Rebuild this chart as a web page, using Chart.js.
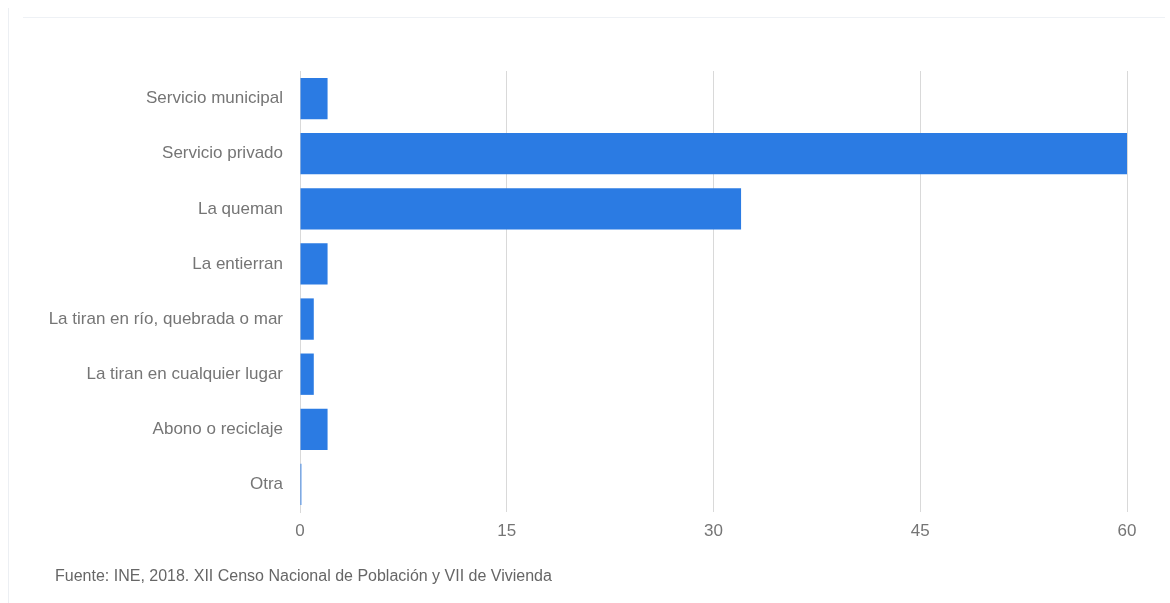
<!DOCTYPE html>
<html>
<head>
<meta charset="utf-8">
<script src="https://cdn.jsdelivr.net/npm/chart.js@4"></script>
<style>
    html, body { margin: 0; padding: 0; background: #fff; }
    #wrap { position: relative; width: 1170px; height: 603px; overflow: hidden; }
    #leftLine { position: absolute; left: 8px; top: 8px; width: 1px; height: 595px; background: #eceff3; }
    #topLine { position: absolute; left: 23px; top: 17px; width: 1142px; height: 1px; background: #eef1f5; }
    #chart { position: absolute; left: 0; top: 0; }
    #source { position: absolute; left: 55px; top: 567px; font: 16px Arial, "Liberation Sans", sans-serif; color: #666; }
</style>
</head>
<body>
<div id="wrap">
    <div id="leftLine"></div>
    <div id="topLine"></div>
    <canvas id="chart" width="1170" height="603"></canvas>
    <div id="source">Fuente: INE, 2018. XII Censo Nacional de Población y VII de Vivienda</div>
</div>
<script>
const categories = [
    'Servicio municipal',
    'Servicio privado',
    'La queman',
    'La entierran',
    'La tiran en río, quebrada o mar',
    'La tiran en cualquier lugar',
    'Abono o reciclaje',
    'Otra'
];
const values = [2, 60, 32, 2, 1, 1, 2, 0.1];
const xTicks = [0, 15, 30, 45, 60];

const labelFont = { family: 'Arial, "Liberation Sans", sans-serif', size: 17 };

const ctx = document.getElementById('chart').getContext('2d');
new Chart(ctx, {
    type: 'bar',
    data: {
        labels: categories,
        datasets: [{
            data: values,
            backgroundColor: '#2b7be3',
            borderWidth: 0,
            barPercentage: 0.75,
            categoryPercentage: 1
        }]
    },
    options: {
        indexAxis: 'y',
        responsive: false,
        animation: false,
        layout: { padding: { top: 71, right: 43, bottom: 61, left: 0 } },
        plugins: { legend: { display: false }, tooltip: { enabled: false } },
        scales: {
            x: {
                min: 0,
                max: 60,
                afterFit: (scale) => { scale.height = 30; },
                afterBuildTicks: (scale) => { scale.ticks = xTicks.map(v => ({ value: v })); },
                grid: { color: '#d9d9d9', lineWidth: 1, drawTicks: false },
                border: { display: false },
                ticks: { color: '#757575', font: labelFont, padding: 9 }
            },
            y: {
                afterFit: (scale) => { scale.width = 300; },
                grid: { display: false, drawTicks: false },
                border: { display: true, color: '#d9d9d9', width: 1 },
                ticks: { color: '#757575', font: labelFont, padding: 17 }
            }
        }
    }
});
</script>
</body>
</html>
